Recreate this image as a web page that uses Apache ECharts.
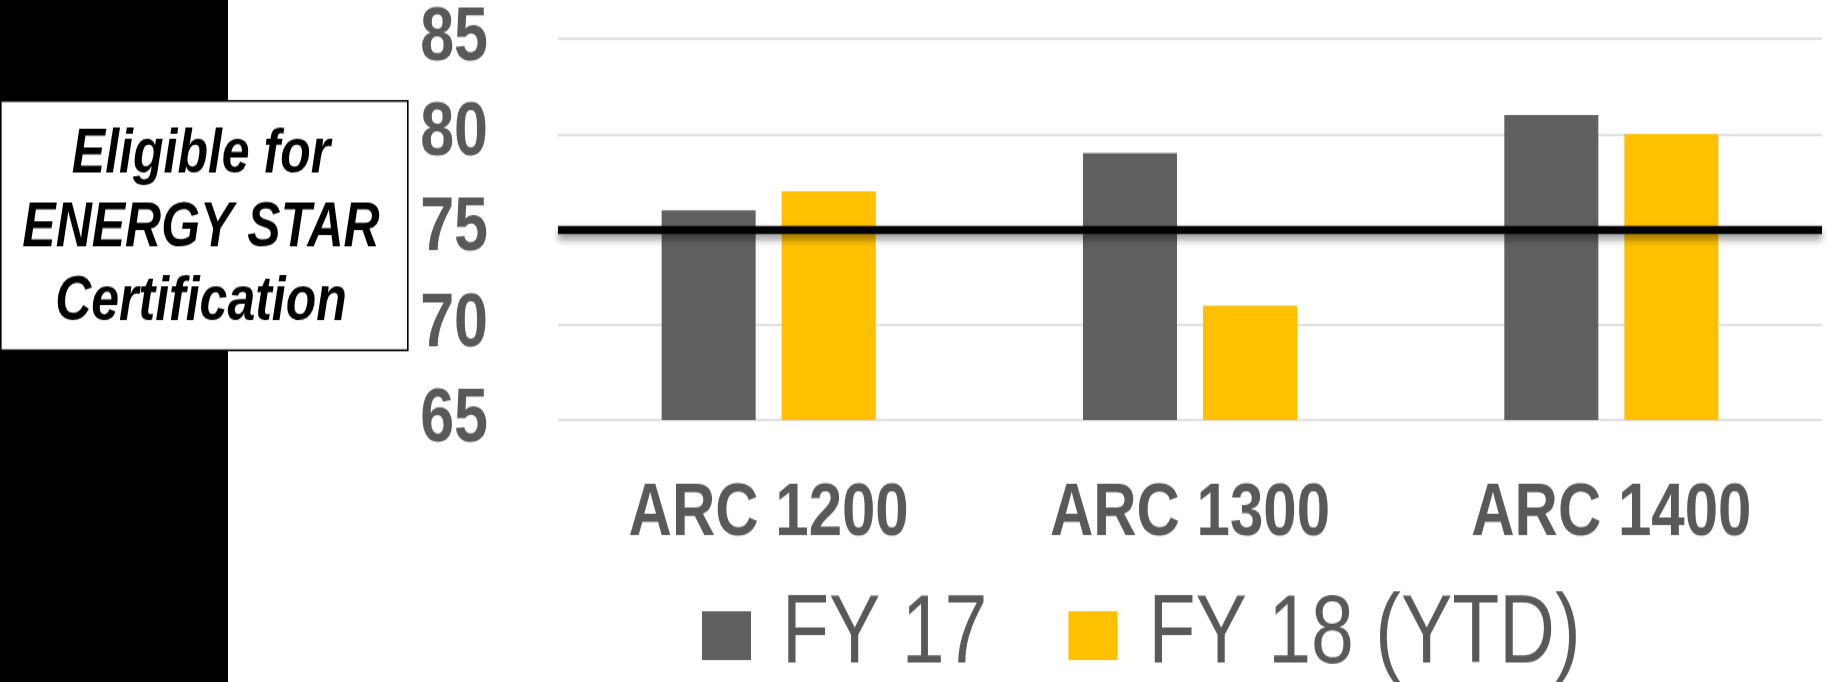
<!DOCTYPE html>
<html>
<head>
<meta charset="utf-8">
<style>
html,body{margin:0;padding:0;background:#fff;overflow:hidden;}
#wrap{width:1843px;height:682px;overflow:hidden;position:relative;}
#c{width:1843px;height:545.6px;transform:scaleY(1.25);transform-origin:0 0;}
</style>
<script src="https://cdn.jsdelivr.net/npm/echarts@6/dist/echarts.min.js"></script>
</head>
<body>
<div id="wrap"><div id="c"></div></div>
<script>
const categories = ['ARC 1200', 'ARC 1300', 'ARC 1400'];
const seriesNames = ['FY 17', 'FY 18 (YTD)'];
const fy17 = [76, 79, 81];
const fy18 = [77, 71, 80];
const threshold = 75;
const yTicks = { min: 65, max: 85, interval: 5 };
const boxLines = ['Eligible for', 'ENERGY STAR', 'Certification'];

const FONT = "'Liberation Sans', Arial, sans-serif";
const chart = echarts.init(document.getElementById('c'), null, {renderer: 'canvas'});

chart.setOption({
  backgroundColor: '#ffffff',
  animation: false,
  grid: { left: 558, right: 21, top: 31, bottom: 209.9, containLabel: false },
  legend: {
    left: 697, top: 465,
    itemWidth: 49, itemHeight: 39.2, itemGap: 81,
    icon: 'rect',
    textStyle: { fontFamily: FONT, fontSize: 77, color: '#595959', padding: [0, 0, 0, 26] },
    data: seriesNames
  },
  xAxis: {
    type: 'category',
    data: categories,
    axisLine: { show: false },
    axisTick: { show: false },
    axisLabel: { interval: 0, fontFamily: FONT, fontWeight: 'bold', fontSize: 60, color: '#595959', margin: 45 }
  },
  yAxis: {
    type: 'value',
    min: yTicks.min, max: yTicks.max, interval: yTicks.interval,
    axisLine: { show: false },
    axisTick: { show: false },
    splitLine: { lineStyle: { color: '#d9d9d9', width: 1.6 } },
    axisLabel: { fontFamily: FONT, fontWeight: 'bold', fontSize: 61, color: '#595959', margin: 70 }
  },
  series: [
    { name: seriesNames[0], type: 'bar', data: fy17, barWidth: 94, barGap: '27.7%',
      itemStyle: { color: '#606060' } },
    { name: seriesNames[1], type: 'bar', data: fy18, barWidth: 94, barGap: '27.7%',
      itemStyle: { color: '#FFC000' },
      markLine: {
        z: 10, silent: true, symbol: ['none', 'none'], label: { show: false },
        lineStyle: { color: '#000', width: 6.4, type: 'solid',
          shadowColor: 'rgba(0,0,0,0.45)', shadowBlur: 6, shadowOffsetY: 4 },
        data: [{ yAxis: threshold }]
      } }
  ],
  graphic: [
    { type: 'rect', left: 0, top: 0, z: 100, shape: { width: 228, height: 546 }, style: { fill: '#000' } },
    { type: 'rect', left: 0, top: 80, z: 101, shape: { x: 0, y: 0, width: 407, height: 199.5 },
      style: { fill: '#fff', stroke: '#000', lineWidth: 1.6 } },
    { type: 'text', z: 102, x: 201, y: 95,
      style: { text: boxLines.join('\n'), align: 'center', verticalAlign: 'top', fontFamily: FONT, fontWeight: 'bold', fontStyle: 'italic',
        fontSize: 50, lineHeight: 59, fill: '#000' } }
  ]
});
</script>
</body>
</html>
